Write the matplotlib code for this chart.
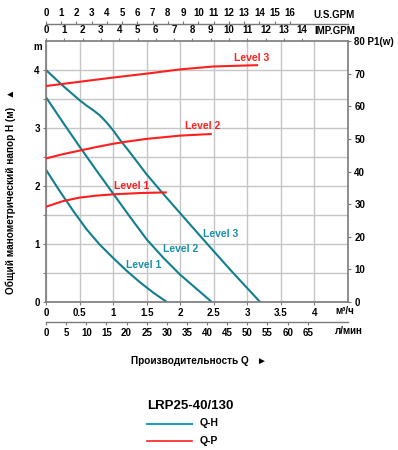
import matplotlib
matplotlib.use("Agg")
from matplotlib import pyplot as plt
from matplotlib.lines import Line2D

plt.rcParams['font.family'] = ['Liberation Sans', 'DejaVu Sans']
plt.rcParams['font.weight'] = 'bold'

TEAL = '#127f8e'
TEAL_TXT = '#1b8fa6'
RED = '#ff1f1f'
GRID = '#c6c6c6'
SPINE = '#7a7a7a'

# Q-H curves (Q in m3/h, H in m)
QH1_Q = [0, 0.2, 0.4, 0.6, 0.8, 1.0, 1.2, 1.4, 1.6, 1.8]
QH1_H = [2.28, 1.92, 1.58, 1.26, 0.99, 0.76, 0.54, 0.34, 0.16, 0.0]
QH2_Q = [0, 0.25, 0.5, 0.75, 1.0, 1.25, 1.5, 1.75, 2.0, 2.25, 2.47]
QH2_H = [3.53, 3.1, 2.68, 2.27, 1.87, 1.47, 1.08, 0.76, 0.47, 0.22, 0.0]
QH3_Q = [0, 0.25, 0.5, 0.6, 0.7, 0.8, 0.9, 1.0, 1.1, 1.25, 1.5, 1.75, 2.0, 2.35, 2.75, 3.19]
QH3_H = [4.0, 3.73, 3.48, 3.39, 3.31, 3.22, 3.1, 2.96, 2.8, 2.58, 2.2, 1.86, 1.53, 1.07, 0.55, 0.0]

# Q-P curves (P1 in W)
QP1_Q = [0, 0.25, 0.5, 0.75, 1.0, 1.4, 1.8]
QP1_P = [29.2, 30.9, 32.0, 32.6, 33.0, 33.4, 33.6]
QP2_Q = [0, 0.25, 0.5, 0.75, 1.0, 1.25, 1.5, 2.0, 2.47]
QP2_P = [44.0, 45.3, 46.4, 47.5, 48.5, 49.3, 50.0, 51.0, 51.5]
QP3_Q = [0, 0.5, 1.0, 1.5, 2.0, 2.5, 3.16]
QP3_P = [66.2, 67.5, 68.8, 70.0, 71.3, 72.2, 72.6]

M3H_TICKS = [0, 0.5, 1, 1.5, 2, 2.5, 3, 3.5, 4]
M3H_LABELS = ['0', '0.5', '1', '1.5', '2', '2.5', '3', '3.5', '4']
H_TICKS = [0, 1, 2, 3, 4]
P_TICKS = [0, 10, 20, 30, 40, 50, 60, 70, 80]
P_LABELS = ['0', '10', '20', '30', '40', '50', '60', '70', '80 P1(w)']
LMIN_TICKS = list(range(0, 70, 5))
IMP_TICKS = list(range(0, 15))
US_TICKS = list(range(0, 17))

FS = 7

fig = plt.figure(figsize=(3.98, 4.5), dpi=100)
ax = fig.add_axes([46 / 398, 1 - 302 / 450, 302 / 398, 261 / 450])
ax.set_xlim(0, 4.5)
ax.set_ylim(0, 4.5)
ax.set_xticks(M3H_TICKS)
ax.set_xticklabels(M3H_LABELS)
ax.set_yticks(H_TICKS)
ax.set_yticks([y * 0.5 for y in range(1, 9, 2)], minor=True)
ax.grid(True, which='both', color=GRID, lw=1)
ax.set_axisbelow(True)
ax.tick_params(which='minor', length=2, width=0.8, color=SPINE)
ax.tick_params(axis='both', which='major', labelsize=FS, length=2.5, width=0.8,
               color=SPINE, pad=2)
for sp in ax.spines.values():
    sp.set_color(SPINE)
    sp.set_linewidth(1.2)

for q, h in [(QH1_Q, QH1_H), (QH2_Q, QH2_H), (QH3_Q, QH3_H)]:
    ax.plot(q, h, color=TEAL, lw=1.5, solid_capstyle='butt')

ax2 = ax.twinx()
ax2.set_ylim(0, 80)
ax2.set_yticks(P_TICKS)
ax2.set_yticklabels(P_LABELS)
ax2.tick_params(axis='y', labelsize=FS, length=2.5, width=0.8, color=SPINE, pad=2)
for sp in ax2.spines.values():
    sp.set_visible(False)
for q, p in [(QP1_Q, QP1_P), (QP2_Q, QP2_P), (QP3_Q, QP3_P)]:
    ax2.plot(q, p, color=RED, lw=1.5, solid_capstyle='butt')

# curve labels
lab = dict(fontsize=7.5, fontweight='bold', ha='center', va='center')
ax.text(1.28, 2.0, 'Level 1', color=RED, **lab)
ax.text(2.34, 3.04, 'Level 2', color=RED, **lab)
ax.text(3.06, 4.2, 'Level 3', color=RED, **lab)
ax.text(1.46, 0.63, 'Level 1', color=TEAL_TXT, **lab)
ax.text(2.0, 0.91, 'Level 2', color=TEAL_TXT, **lab)
ax.text(2.6, 1.18, 'Level 3', color=TEAL_TXT, **lab)

# flow unit axes
imp = ax.secondary_xaxis('top', functions=(lambda q: q * 3.666, lambda g: g / 3.666))
imp.set_xticks(IMP_TICKS)
imp.tick_params(labelsize=FS, length=2.5, width=0.8, color=SPINE, pad=1.5)
imp.spines['top'].set_visible(False)

us = ax.secondary_xaxis(1 + 17 / 261, functions=(lambda q: q * 4.403, lambda g: g / 4.403))
us.set_xticks(US_TICKS)
us.tick_params(labelsize=FS, length=2.5, width=0.8, color=SPINE, pad=1.5)
us.spines['top'].set_color(SPINE)
us.spines['top'].set_linewidth(1.0)

lmin = ax.secondary_xaxis(-20 / 261, functions=(lambda q: q * 16.667, lambda v: v / 16.667))
lmin.set_xticks(LMIN_TICKS)
lmin.tick_params(labelsize=FS, length=2.5, width=0.8, color=SPINE, pad=1.5)
lmin.spines['bottom'].set_color(SPINE)
lmin.spines['bottom'].set_linewidth(1.0)

fig.text(355 / 398, 1 - 15 / 450, 'U.S.GPM', fontsize=FS, ha='right', va='center')
fig.text(355 / 398, 1 - 31 / 450, 'IMP.GPM', fontsize=FS, ha='right', va='center')
fig.text(38 / 398, 1 - 47 / 450, 'm', fontsize=FS, ha='center', va='center')
fig.text(335 / 398, 1 - 311 / 450, 'м³/ч', fontsize=FS, ha='left', va='center')
fig.text(335 / 398, 1 - 331 / 450, 'л/мин', fontsize=FS, ha='left', va='center')

fig.text(11 / 398, 1 - 191 / 450, 'Общий манометрический напор H (м)   ▲', fontsize=7.2,
         rotation=90, ha='center', va='center')
fig.text(199 / 398, 1 - 361 / 450, 'Производительность Q   ►', fontsize=7.2,
         ha='center', va='center')

# legend block
fig.text(147 / 398, 1 - 406 / 450, 'LRP25-40/130', fontsize=9.5, ha='left', va='center')
fig.add_artist(Line2D([147 / 398, 192 / 398], [1 - 424 / 450] * 2, color='#1ea0bd', lw=1.5))
fig.add_artist(Line2D([147 / 398, 192 / 398], [1 - 441 / 450] * 2, color=RED, lw=1.2))
fig.text(200 / 398, 1 - 423 / 450, 'Q-H', fontsize=7.5, ha='left', va='center')
fig.text(200 / 398, 1 - 441 / 450, 'Q-P', fontsize=7.5, ha='left', va='center')

fig.savefig('out.png', dpi=100)
